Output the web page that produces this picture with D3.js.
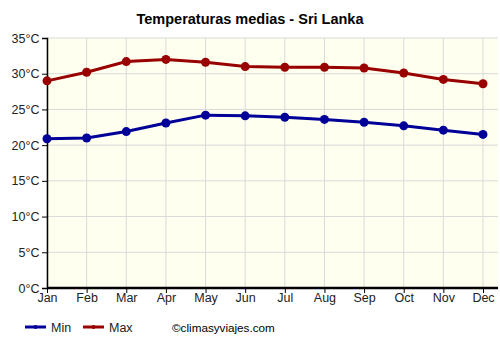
<!DOCTYPE html>
<html lang="es">
<head>
<meta charset="UTF-8">
<title>Temperaturas medias - Sri Lanka</title>
<style>
  body { margin: 0; background: #fff; }
  svg text { font-family: "Liberation Sans", Arial, sans-serif; }
</style>
</head>
<body>
<svg width="500" height="350"></svg>
<script src="https://d3js.org/d3.v7.min.js"></script>
<script>
var months = ['Jan','Feb','Mar','Apr','May','Jun','Jul','Aug','Sep','Oct','Nov','Dec'];
var minTemp = [20.9, 21.0, 21.9, 23.1, 24.2, 24.1, 23.9, 23.6, 23.2, 22.7, 22.1, 21.5];
var maxTemp = [29.0, 30.2, 31.7, 32.0, 31.6, 31.0, 30.9, 30.9, 30.8, 30.1, 29.2, 28.6];
var yTicks = [0, 5, 10, 15, 20, 25, 30, 35];

var marge = {top: 38, left: 47, right: 498, bottom: 288};
var svg = d3.select('svg');

// escalas
var x = d3.scalePoint().domain(months).range([marge.left, 483]);
var y = d3.scaleLinear().domain([0, 35]).range([marge.bottom, marge.top]);

// fondo
svg.append('rect')
  .attr('x', marge.left).attr('y', marge.top)
  .attr('width', marge.right - marge.left).attr('height', marge.bottom - marge.top)
  .attr('fill', '#fffff0');

// rejilla
svg.append('g').selectAll('line').data(yTicks).enter().append('line')
  .attr('x1', marge.left).attr('x2', marge.right)
  .attr('y1', d => y(d)).attr('y2', d => y(d))
  .attr('stroke', '#d9d9d9').attr('stroke-width', 1);
svg.append('g').selectAll('line').data(months).enter().append('line')
  .attr('x1', d => x(d)).attr('x2', d => x(d))
  .attr('y1', marge.top).attr('y2', marge.bottom)
  .attr('stroke', '#d9d9d9').attr('stroke-width', 1);

// ejes
var yAxis = d3.axisLeft(y).tickValues(yTicks).tickSize(5).tickFormat(d => d + '°C');
var gy = svg.append('g').attr('transform', `translate(${marge.left},0)`).call(yAxis);
gy.select('.domain').attr('stroke', '#000').attr('stroke-width', 1.5);
gy.selectAll('text').attr('font-size', 12.5).attr('fill', '#222').attr('x', -7.5);

var xAxis = d3.axisBottom(x).tickSize(5).tickSizeOuter(0);
var gx = svg.append('g').attr('transform', `translate(0,${marge.bottom})`).call(xAxis);
gx.select('.domain').attr('stroke', '#000').attr('stroke-width', 2.5)
  .attr('d', `M${marge.left},0H${marge.right}`);
gx.selectAll('text').attr('font-size', 12.5).attr('fill', '#222').attr('y', 5).attr('dy', '0.71em');

// series
var series = [
  {name: 'Min', values: minTemp, color: '#000099'},
  {name: 'Max', values: maxTemp, color: '#990000'}
];
var line = d3.line().x((d, i) => x(months[i])).y(d => y(d));

series.forEach(function(s) {
  svg.append('path').datum(s.values)
    .attr('d', line).attr('fill', 'none')
    .attr('stroke', s.color).attr('stroke-width', 3);
  svg.append('g').selectAll('circle').data(s.values).enter().append('circle')
    .attr('cx', (d, i) => x(months[i])).attr('cy', d => y(d))
    .attr('r', 4.5).attr('fill', s.color);
});

// título
svg.append('text')
  .attr('x', 250).attr('y', 24)
  .attr('text-anchor', 'middle')
  .attr('font-size', 14.5).attr('font-weight', 'bold')
  .text('Temperaturas medias - Sri Lanka');

// leyenda
var legend = svg.append('g').attr('transform', 'translate(0,327)');
series.forEach(function(s, i) {
  var lx = 25 + i * 58;
  legend.append('line').attr('x1', lx).attr('x2', lx + 21).attr('y1', 0).attr('y2', 0)
    .attr('stroke', s.color).attr('stroke-width', 3);
  legend.append('circle').attr('cx', lx + 10.5).attr('cy', 0).attr('r', 2).attr('fill', s.color);
  legend.append('text').attr('x', lx + 26).attr('y', 4.5)
    .attr('font-size', 12.5).attr('fill', '#222').text(s.name);
});
legend.append('text').attr('x', 172).attr('y', 4.5)
  .attr('font-size', 11.7).attr('fill', '#000').text('©climasyviajes.com');
</script>
</body>
</html>
